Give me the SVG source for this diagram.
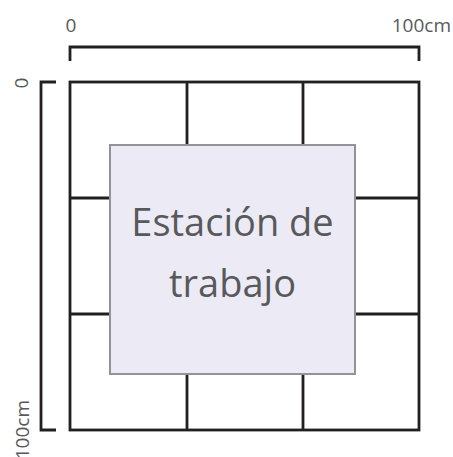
<svg xmlns="http://www.w3.org/2000/svg" width="453" height="457" viewBox="0 0 453 457">
<style>
.ln{fill:none;stroke:#231f20;stroke-width:2.8;stroke-linecap:butt;stroke-linejoin:miter}
.lbl{font-family:"Open Sans","Liberation Sans",sans-serif;font-size:19px;fill:#58595b}
.big{font-family:"Open Sans","Liberation Sans",sans-serif;font-size:38px;fill:#58595b;text-anchor:middle}
</style>
<rect width="453" height="457" fill="#ffffff"/>
<g id="scales">
<path class="ln" d="M70,61 V47 H419 V61"/>
<path class="ln" d="M56,82 H41 V430 H56"/>
<text class="lbl" x="71" y="32" text-anchor="middle">0</text>
<text class="lbl" x="451" y="32" text-anchor="end">100cm</text>
<text class="lbl" transform="translate(28,83) rotate(-90)" text-anchor="middle">0</text>
<text class="lbl" transform="translate(29,400) rotate(-90)" text-anchor="end">100cm</text>
</g>
<g id="grid">
<rect class="ln" x="70" y="82" width="349" height="348"/>
<path class="ln" d="M187,82 V430 M303,82 V430 M70,198 H419 M70,314 H419"/>
</g>
<g id="estacion">
<rect x="110" y="145" width="245" height="229" fill="#ecebf5" stroke="#929297" stroke-width="2"/>
<text class="big" x="232.5" y="236">Estación de</text>
<text class="big" x="232.5" y="297">trabajo</text>
</g>
</svg>
